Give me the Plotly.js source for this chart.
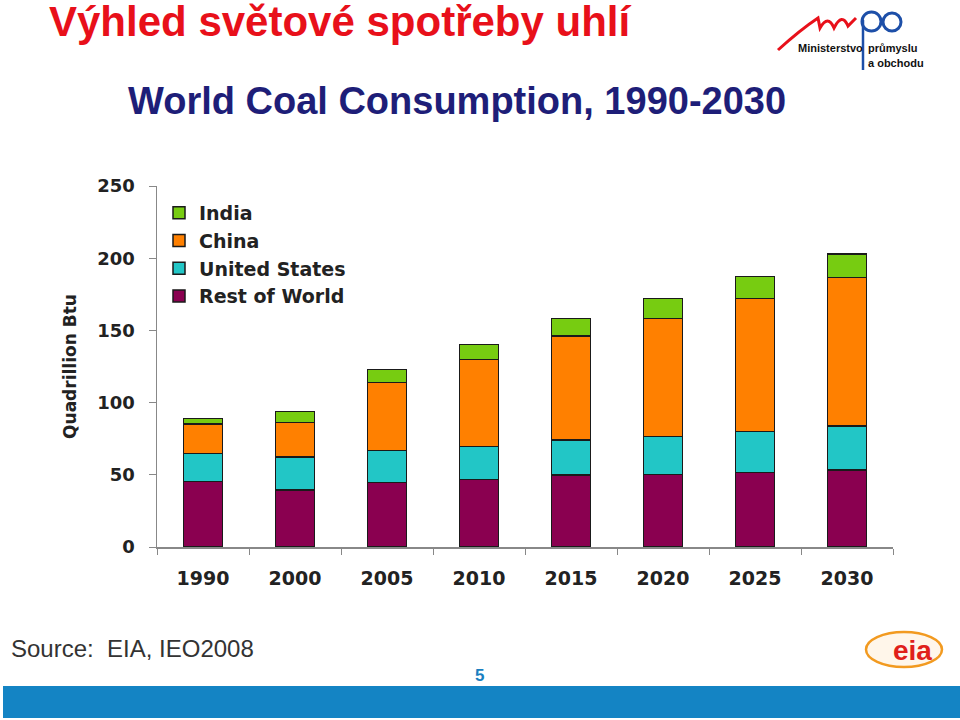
<!DOCTYPE html>
<html>
<head>
<meta charset="utf-8">
<script src="https://cdn.plot.ly/plotly-3.0.1.min.js"></script>
<style>html,body{margin:0;padding:0;background:#fff;}#chart{width:960px;height:720px;}</style>
</head>
<body>
<div id="chart"></div>
<script>
// ---- data (Quadrillion Btu) ----
const years = ['1990', '2000', '2005', '2010', '2015', '2020', '2025', '2030'];
const restOfWorld = [45.5, 39.5, 44.8, 46.9, 49.9, 50.3, 51.5, 53.3];
const unitedStates = [19.4, 23.0, 21.9, 22.6, 24.2, 26.1, 28.4, 30.5];
const china = [20.3, 23.6, 47.1, 60.5, 72.0, 82.0, 92.3, 103.0];
const india = [3.9, 7.6, 9.2, 10.3, 12.0, 13.6, 15.0, 16.1];
const seriesNames = ['Rest of World', 'United States', 'China', 'India'];
const yTicks = [0, 50, 100, 150, 200, 250];

// ---- layout geometry ----
const W = 960, H = 720;
const L = 157, R = 893, T = 186, B = 547;
const px = x => (x - L) / (R - L);
const py = y => (B - y) / (B - T);

const colors = ['#8a0050', '#22c6c6', '#ff8000', '#77cc11'];
const seriesData = [restOfWorld, unitedStates, china, india];
const traces = seriesData.map((vals, i) => ({
  type: 'bar',
  name: seriesNames[i],
  x: years,
  y: vals,
  width: 0.42,
  legendgroup: 'g' + i,
  marker: {color: colors[i], line: {color: '#1a1a1a', width: 1.5}},
  hoverinfo: 'x+y+name'
}));

const bold = {family: 'DejaVu Sans', weight: 'bold', color: '#222'};

const layout = {
  width: W, height: H,
  paper_bgcolor: '#fff', plot_bgcolor: '#fff',
  margin: {l: L, r: W - R, t: T, b: H - B, autoexpand: false},
  barmode: 'stack',
  showlegend: true,
  title: {
    text: 'Výhled světové spotřeby uhlí',
    x: 49 / W, xanchor: 'left', xref: 'container',
    y: 1 - 7 / H, yanchor: 'top', yref: 'container',
    font: {family: 'Liberation Sans, Arial', weight: 'bold', size: 42, color: '#e8101a'}
  },
  legend: {
    x: px(159), y: py(194), xanchor: 'left', yanchor: 'top',
    traceorder: 'reversed',
    tracegroupgap: 7,
    bgcolor: 'rgba(0,0,0,0)',
    font: Object.assign({}, bold, {size: 19, color: '#222'})
  },
  xaxis: {
    type: 'category',
    range: [-0.5, 7.5],
    tickson: 'boundaries',
    ticks: 'outside', ticklen: 6, tickcolor: '#888', tickwidth: 1,
    ticklabelstandoff: 14,
    showline: true, linecolor: '#888', linewidth: 1.5,
    showgrid: false, zeroline: false,
    tickfont: Object.assign({}, bold, {size: 19}),
    fixedrange: true
  },
  yaxis: {
    range: [0, 250],
    tickvals: yTicks,
    ticks: 'outside', ticklen: 7, tickcolor: '#888', tickwidth: 1,
    ticklabelstandoff: 10,
    showline: true, linecolor: '#888', linewidth: 1.5,
    showgrid: false, zeroline: false,
    tickfont: Object.assign({}, bold, {size: 18}),
    title: {text: 'Quadrillion Btu', standoff: 16, font: Object.assign({}, bold, {size: 17})},
    fixedrange: true
  },
  annotations: [
    {text: 'World Coal Consumption, 1990-2030', xref: 'paper', yref: 'paper',
     x: px(457), y: py(101), xanchor: 'center', yanchor: 'middle', showarrow: false,
     font: {family: 'Liberation Sans, Arial', weight: 'bold', size: 38, color: '#1e1e78'}},
    {text: 'Source:  EIA, IEO2008', xref: 'paper', yref: 'paper',
     x: px(9), y: py(648), xanchor: 'left', yanchor: 'middle', showarrow: false,
     font: {family: 'Liberation Sans, Arial', size: 24, color: '#333'}},
    {text: '5', xref: 'paper', yref: 'paper',
     x: px(479), y: py(675), xanchor: 'center', yanchor: 'middle', showarrow: false,
     font: {family: 'Liberation Sans, Arial', weight: 'bold', size: 17, color: '#1a7fc0'}},
    // MPO logo text
    {text: 'Ministerstvo', xref: 'paper', yref: 'paper',
     x: px(796), y: py(48), xanchor: 'left', yanchor: 'middle', showarrow: false,
     font: {family: 'Liberation Sans Narrow, Liberation Sans', weight: 'bold', size: 11, color: '#111'}},
    {text: 'průmyslu', xref: 'paper', yref: 'paper',
     x: px(866), y: py(48), xanchor: 'left', yanchor: 'middle', showarrow: false,
     font: {family: 'Liberation Sans Narrow, Liberation Sans', weight: 'bold', size: 11, color: '#111'}},
    {text: 'a obchodu', xref: 'paper', yref: 'paper',
     x: px(866), y: py(63), xanchor: 'left', yanchor: 'middle', showarrow: false,
     font: {family: 'Liberation Sans Narrow, Liberation Sans', weight: 'bold', size: 11, color: '#111'}},
    // EIA logo text
    {text: 'eia', xref: 'paper', yref: 'paper',
     x: px(912), y: py(650), xanchor: 'center', yanchor: 'middle', showarrow: false,
     font: {family: 'Liberation Sans, Arial', weight: 'bold', size: 28, color: '#e0201a'}}
  ],
  shapes: [
    // bottom blue band
    {type: 'rect', xref: 'paper', yref: 'paper', x0: px(3), x1: px(960), y0: py(718), y1: py(686),
     fillcolor: '#1484c4', line: {width: 0}, layer: 'above'},
    // MPO red swoosh
    {type: 'path', xref: 'paper', yref: 'paper', layer: 'above',
     path: 'M' + px(778) + ',' + py(50) + ' Q' + px(800) + ',' + py(30) + ' ' + px(818) + ',' + py(18) +
           ' L' + px(820) + ',' + py(28) + ' Q' + px(828) + ',' + py(14) + ' ' + px(834) + ',' + py(28) +
           ' Q' + px(842) + ',' + py(12) + ' ' + px(848) + ',' + py(26) + ' L' + px(856) + ',' + py(18),
     line: {color: '#e8101a', width: 3}},
    // MPO blue "p"
    {type: 'circle', xref: 'paper', yref: 'paper', layer: 'above',
     x0: px(862), x1: px(881), y0: py(31), y1: py(12), line: {color: '#1d4fa8', width: 3}},
    {type: 'line', xref: 'paper', yref: 'paper', layer: 'above',
     x0: px(863), x1: px(863), y0: py(20), y1: py(70), line: {color: '#1d4fa8', width: 2.5}},
    // MPO blue "o"
    {type: 'circle', xref: 'paper', yref: 'paper', layer: 'above',
     x0: px(883), x1: px(901), y0: py(31), y1: py(13), line: {color: '#1d4fa8', width: 3}},
    // EIA ellipse
    {type: 'circle', xref: 'paper', yref: 'paper', layer: 'below',
     x0: px(866), x1: px(942), y0: py(667), y1: py(632), fillcolor: '#fff6ea',
     line: {color: '#f29a20', width: 2.5}}
  ]
};

Plotly.newPlot('chart', traces, layout, {displayModeBar: false, staticPlot: true});
</script>
</body>
</html>
